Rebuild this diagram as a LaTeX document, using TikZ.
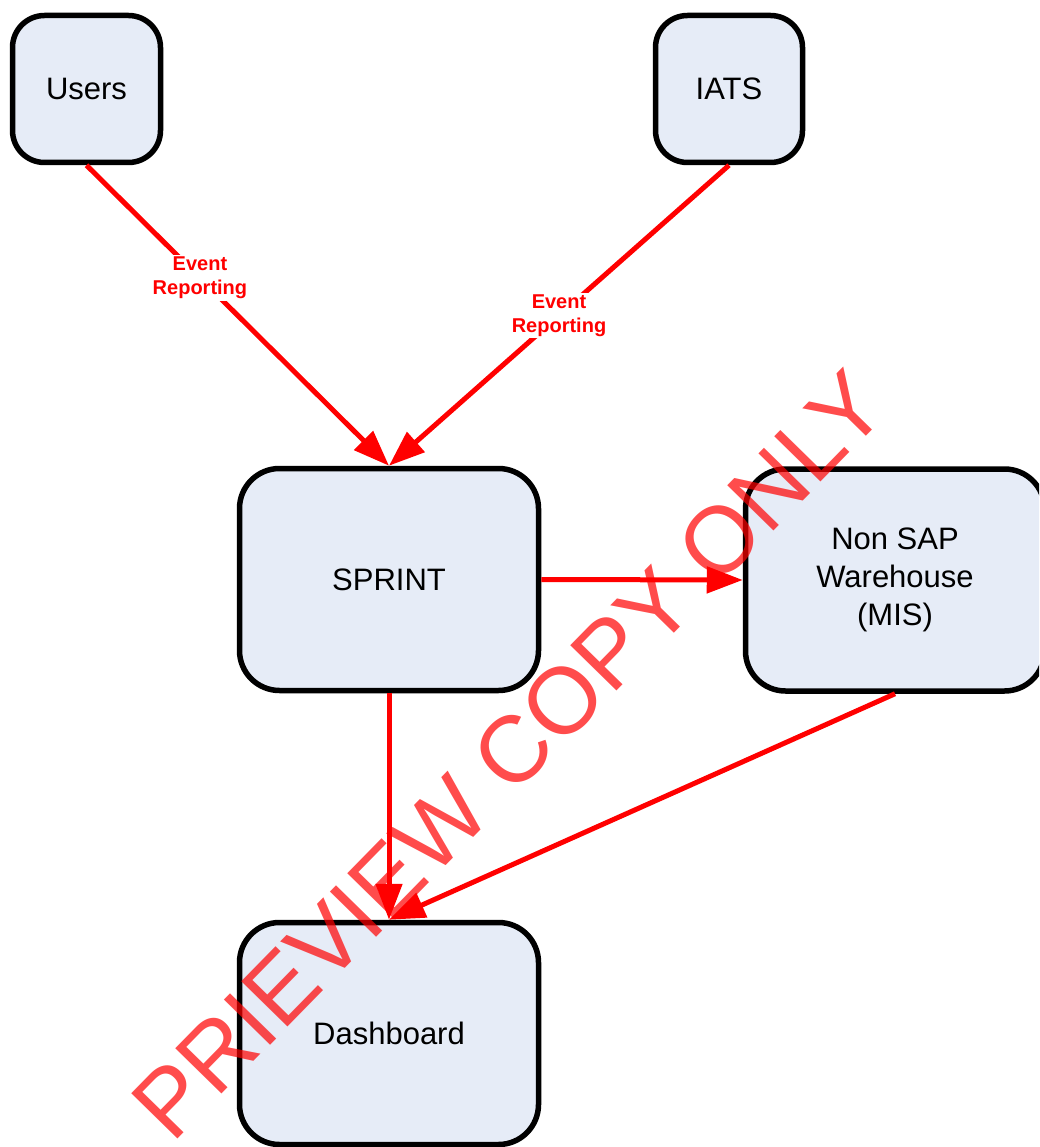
\documentclass[tikz,border=0pt]{standalone}
\usepackage{fontspec}
\setmainfont{Liberation Sans}
\usetikzlibrary{arrows.meta}
\definecolor{boxfill}{HTML}{E6ECF7}
\tikzset{
  block/.style={draw=black, line width=5.5pt, fill=boxfill, rounded corners=#1,
    align=center, font=\fontsize{31}{38}\selectfont, inner sep=0pt},
  flow/.style={draw=red, line width=5pt, -{Triangle[length=36pt,width=26pt]}},
  evlabel/.style={fill=white, text=red, align=center, inner sep=2pt,
    font=\fontsize{20}{24}\selectfont\bfseries},
  watermark/.style={text=red, opacity=0.7, font=\fontsize{94}{100}\selectfont, inner sep=0pt}
}
\begin{document}
\begin{tikzpicture}[x=1pt, y=-1pt]
\useasboundingbox (0,0) rectangle (1039,1147);
\clip (0,0) rectangle (1039,1147);
\node[block=32pt, minimum width=148pt, minimum height=147pt] (users) at (86.5,89) {Users};
\node[block=32pt, minimum width=147pt, minimum height=147pt] (iats) at (729,89) {IATS};
\node[block=40pt, minimum width=299pt, minimum height=222pt] (sprint) at (389,579.5) {SPRINT};
\node[block=40pt, minimum width=299pt, minimum height=222pt] (mis) at (895,580) {Non SAP\\Warehouse\\(MIS)};
\node[block=40pt, minimum width=299pt, minimum height=222pt] (dash) at (389,1033.5) {Dashboard};
\draw[flow] (users.south) -- node[evlabel, pos=0.375] (l1) {Event\\Reporting} (sprint.north);
\draw[flow] (iats.south) -- node[evlabel, pos=0.5] (l2) {Event\\Reporting} (sprint.north);
\draw[flow] (sprint.east) -- (mis.west);
\draw[flow] (sprint.south) -- (dash.north);
\draw[flow] (mis.south) -- (dash.north);
\node[watermark, rotate=45.6] (wm) at (509,755) {PRIEVIEW COPY ONLY};
\end{tikzpicture}
\end{document}
